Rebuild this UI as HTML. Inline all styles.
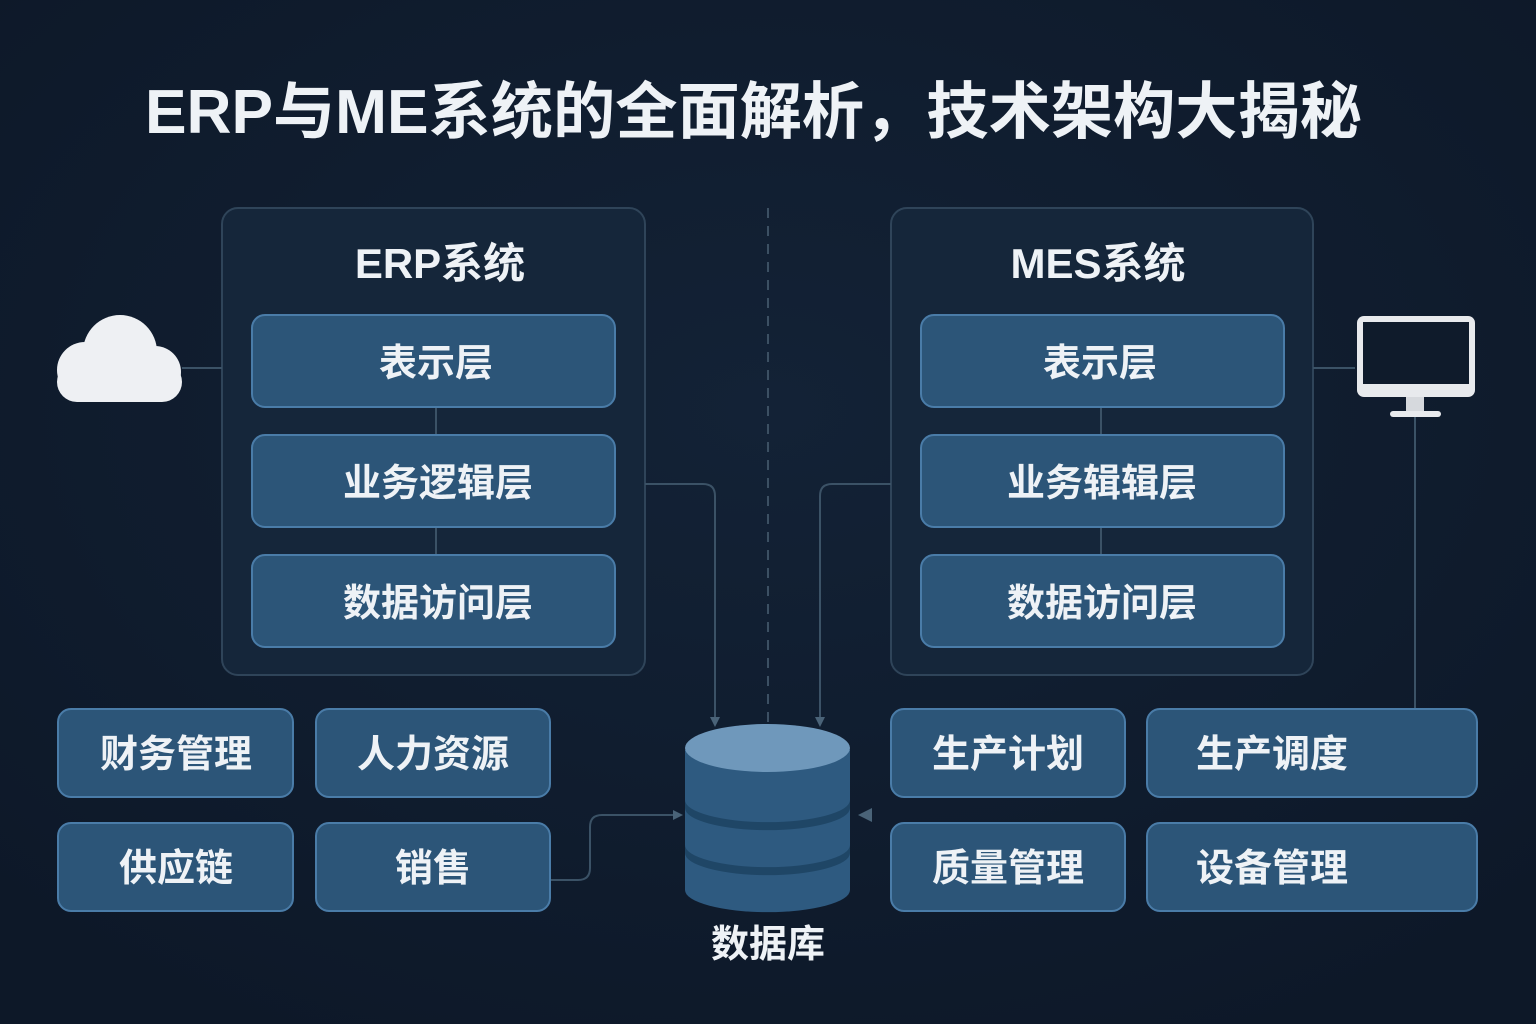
<!DOCTYPE html>
<html><head><meta charset="utf-8"><style>
html,body{margin:0;padding:0;background:#0f1b2b;}
svg{display:block}
text{font-family:"Liberation Sans","Noto Sans CJK SC",sans-serif;font-weight:bold;fill:#eef2f6;}
</style></head><body>
<svg width="1536" height="1024" viewBox="0 0 1536 1024" xmlns="http://www.w3.org/2000/svg">
<defs>
<radialGradient id="bg" cx="50%" cy="40%" r="70%"><stop offset="0" stop-color="#132236"/><stop offset="1" stop-color="#0d1828"/></radialGradient>
<marker id="ar" markerWidth="10" markerHeight="10" refX="5" refY="5" orient="auto" markerUnits="userSpaceOnUse"><path d="M0,0 L10,5 L0,10 z" fill="#4a6378"/></marker>
</defs>
<rect width="1536" height="1024" fill="url(#bg)"/>
<text x="145" y="133" font-size="62" textLength="1217" lengthAdjust="spacingAndGlyphs">ERP与ME系统的全面解析，技术架构大揭秘</text>

<!-- dashed divider -->
<line x1="768" y1="208" x2="768" y2="722" stroke="#3c5063" stroke-width="2" stroke-dasharray="10,8"/>

<!-- containers -->
<rect x="222" y="208" width="423" height="467" rx="16" fill="#15263a" stroke="#2f4459" stroke-width="2"/>
<rect x="891" y="208" width="422" height="467" rx="16" fill="#15263a" stroke="#2f4459" stroke-width="2"/>
<text x="440" y="278" font-size="42" text-anchor="middle">ERP系统</text>
<text x="1098" y="278" font-size="42" text-anchor="middle">MES系统</text>

<g stroke="#3b5266" stroke-width="2" fill="none">
<line x1="436" y1="407" x2="436" y2="435"/><line x1="436" y1="527" x2="436" y2="555"/>
<line x1="1101" y1="407" x2="1101" y2="435"/><line x1="1101" y1="527" x2="1101" y2="555"/>
<line x1="182" y1="368" x2="222" y2="368"/>
<line x1="1313" y1="368" x2="1355" y2="368"/>
<line x1="1415" y1="417" x2="1415" y2="709"/>
<path d="M645,484 H703 Q715,484 715,496 V722" marker-end="url(#ar)"/>
<path d="M891,484 H832 Q820,484 820,496 V722" marker-end="url(#ar)"/>
<path d="M550,880 H578 Q590,880 590,868 V827 Q590,815 602,815 H678" marker-end="url(#ar)"/>
</g>
<path d="M872,808 L858,815 L872,822 z" fill="#4a6378"/>

<g fill="#2c5578" stroke="#4a7ca8" stroke-width="2">
<rect x="252" y="315" width="363" height="92" rx="13"/>
<rect x="252" y="435" width="363" height="92" rx="13"/>
<rect x="252" y="555" width="363" height="92" rx="13"/>
<rect x="921" y="315" width="363" height="92" rx="13"/>
<rect x="921" y="435" width="363" height="92" rx="13"/>
<rect x="921" y="555" width="363" height="92" rx="13"/>
<rect x="58" y="709" width="235" height="88" rx="13"/>
<rect x="316" y="709" width="234" height="88" rx="13"/>
<rect x="58" y="823" width="235" height="88" rx="13"/>
<rect x="316" y="823" width="234" height="88" rx="13"/>
<rect x="891" y="709" width="234" height="88" rx="13"/>
<rect x="1147" y="709" width="330" height="88" rx="13"/>
<rect x="891" y="823" width="234" height="88" rx="13"/>
<rect x="1147" y="823" width="330" height="88" rx="13"/>
</g>
<g font-size="38" text-anchor="middle">
<text x="436" y="376">表示层</text>
<text x="438" y="496">业务逻辑层</text>
<text x="438" y="616">数据访问层</text>
<text x="1100" y="376">表示层</text>
<text x="1102" y="496">业务辑辑层</text>
<text x="1102" y="616">数据访问层</text>
<text x="176" y="767">财务管理</text>
<text x="433" y="767">人力资源</text>
<text x="176" y="881">供应链</text>
<text x="433" y="881">销售</text>
<text x="1008" y="767">生产计划</text>
<text x="1272" y="767">生产调度</text>
<text x="1008" y="881">质量管理</text>
<text x="1272" y="881">设备管理</text>
<text x="768" y="957">数据库</text>
</g>

<!-- cloud -->
<g fill="#eef0f3">
<circle cx="120" cy="352" r="37"/>
<circle cx="85" cy="370" r="28"/>
<circle cx="155" cy="372" r="26"/>
<rect x="57" y="362" width="125" height="40" rx="20"/>
</g>

<!-- monitor -->
<rect x="1357" y="316" width="118" height="81" rx="7" fill="#e8eaed"/>
<rect x="1363" y="322" width="106" height="62" fill="#0f1b2b"/>
<rect x="1406" y="397" width="18" height="14" fill="#d6d9dd"/>
<rect x="1390" y="411" width="51" height="6" rx="3" fill="#e8eaed"/>

<!-- database -->
<path d="M685,750 V890 A82,22 0 0 0 850,890 V750 z" fill="#2e5a80"/>
<path d="M685,800 A82,22 0 0 0 850,800 V808 A82,22 0 0 1 685,808 z" fill="#1f4666"/>
<path d="M685,845 A82,22 0 0 0 850,845 V853 A82,22 0 0 1 685,853 z" fill="#1f4666"/>
<ellipse cx="767.5" cy="748" rx="82.5" ry="24" fill="#6f98bb"/>
</svg>
</body></html>
